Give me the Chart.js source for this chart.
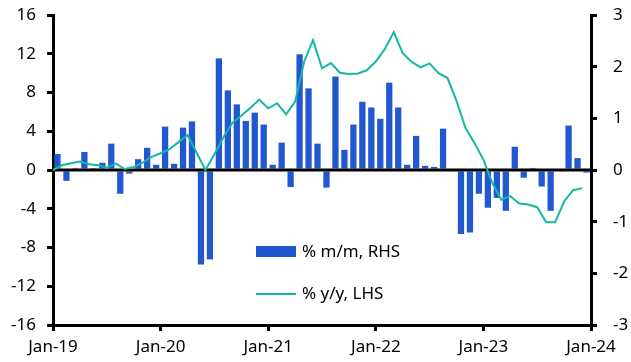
<!DOCTYPE html>
<html>
<head>
<meta charset="utf-8">
<script src="https://cdn.jsdelivr.net/npm/chart.js@4"></script>
<style>
  html, body { margin: 0; padding: 0; background: #fff; }
  #wrap { width: 631px; height: 362px; }
</style>
</head>
<body>
<div id="wrap"><canvas id="chart" width="631" height="362"></canvas></div>
<script>
// monthly data, Jan-19 .. Dec-23
const xTickLabels = ["Jan-19", "Jan-20", "Jan-21", "Jan-22", "Jan-23", "Jan-24"];

// % m/m, RHS (bars)
const momValues = [
  0.31, -0.21, 0.04, 0.35, 0.01, 0.14, 0.51, -0.46, -0.07, 0.21, 0.43, 0.10,
  0.84, 0.12, 0.82, 0.94, -1.83, -1.73, 2.16, 1.54, 1.27, 0.95, 1.11, 0.88,
  0.10, 0.53, -0.33, 2.24, 1.58, 0.51, -0.34, 1.81, 0.39, 0.88, 1.32, 1.21,
  0.99, 1.69, 1.21, 0.10, 0.66, 0.08, 0.06, 0.80, 0.00, -1.24, -1.21, -0.46,
  -0.73, -0.54, -0.79, 0.45, -0.15, 0.04, -0.32, -0.79, 0.00, 0.86, 0.23, -0.05
];

// % y/y, LHS (line)
const yoyValues = [
  0.0, 0.49, 0.7, 0.87, 0.59, 0.49, 0.24, 0.66, 0.1, 0.31, 0.76, 1.35,
  1.73, 2.15, 2.88, 3.6, 1.8, 0.0, 1.63, 3.36, 4.85, 5.6, 6.41, 7.27,
  6.37, 6.89, 5.75, 7.06, 11.15, 13.4, 10.5, 11.04, 10.04, 9.9, 9.97, 10.29,
  11.2, 12.47, 14.23, 12.05, 11.15, 10.6, 11.0, 10.0, 9.49, 7.14, 4.36, 2.8,
  1.07, -1.35, -3.07, -2.7, -3.46, -3.56, -3.84, -5.4, -5.4, -3.25, -2.08, -1.87
];

const barColor = "#2158d0";
const lineColor = "#14b8a3";
const fontFamily = "'Noto Sans', sans-serif";

// bars sit mid-month, line points on the month tick
const barPoints = momValues.map((v, i) => ({ x: i + 0.5, y: v }));
const linePoints = yoyValues.map((v, i) => ({ x: i, y: v }));

// zero line over the bars, under the y/y line
const zeroLine = {
  id: "zeroLine",
  afterDatasetDraw(chart, args) {
    if (args.index !== 0) return;
    const ctx = chart.ctx;
    const y = chart.scales.y.getPixelForValue(0);
    ctx.save();
    ctx.strokeStyle = "#000";
    ctx.lineWidth = 3;
    ctx.beginPath();
    ctx.moveTo(chart.chartArea.left, y);
    ctx.lineTo(chart.chartArea.right, y);
    ctx.stroke();
    ctx.restore();
  }
};

// legend drawn inside the plot area
const insideLegend = {
  id: "insideLegend",
  afterDraw(chart) {
    const ctx = chart.ctx;
    ctx.save();
    ctx.font = "17px " + fontFamily;
    ctx.textBaseline = "middle";
    ctx.fillStyle = barColor;
    ctx.fillRect(256, 246, 40, 11);
    ctx.fillStyle = "#000";
    ctx.fillText("% m/m, RHS", 302, 252);
    ctx.strokeStyle = lineColor;
    ctx.lineWidth = 2;
    ctx.beginPath();
    ctx.moveTo(256, 294);
    ctx.lineTo(296, 294);
    ctx.stroke();
    ctx.fillText("% y/y, LHS", 302, 294);
    ctx.restore();
  }
};

// fixed axis widths, no extra room for half tick labels
const fitY = (w) => (s) => { s.width = w; s.paddingTop = 0; s.paddingBottom = 0; };

const options = {
  type: "bar",
  data: {
    datasets: [
      {
        type: "bar",
        label: "% m/m, RHS",
        data: barPoints,
        yAxisID: "y1",
        backgroundColor: barColor,
        barPercentage: 0.7,
        categoryPercentage: 1,
        order: 1
      },
      {
        type: "line",
        label: "% y/y, LHS",
        data: linePoints,
        yAxisID: "y",
        borderColor: lineColor,
        backgroundColor: lineColor,
        borderWidth: 2,
        pointRadius: 0,
        tension: 0,
        order: 0
      }
    ]
  },
  options: {
    responsive: false,
    animation: false,
    layout: { padding: { top: 15, left: 0, right: 0, bottom: 0 } },
    plugins: {
      legend: { display: false },
      tooltip: { enabled: false }
    },
    scales: {
      x: {
        type: "linear",
        min: 0,
        max: 60,
        offset: false,
        grid: { offset: false, drawOnChartArea: false, tickLength: 6, tickColor: "#000", lineWidth: 3 },
        border: { color: "#000", width: 3 },
        ticks: {
          stepSize: 12,
          autoSkip: false,
          maxRotation: 0,
          padding: 6,
          color: "#000",
          font: { family: fontFamily, size: 17 },
          callback: (v) => xTickLabels[v / 12]
        },
        afterFit: (s) => { s.height = 37; }
      },
      y: {
        position: "left",
        min: -16,
        max: 16,
        grid: { drawOnChartArea: false, tickLength: 6, tickColor: "#000", lineWidth: 3 },
        border: { color: "#000", width: 3 },
        ticks: {
          stepSize: 4,
          padding: 11,
          color: "#000",
          font: { family: fontFamily, size: 17 }
        },
        afterFit: fitY(53)
      },
      y1: {
        position: "right",
        min: -3,
        max: 3,
        grid: { drawOnChartArea: false, tickLength: 6, tickColor: "#000", lineWidth: 3 },
        border: { color: "#000", width: 3 },
        ticks: {
          stepSize: 1,
          padding: 16,
          color: "#000",
          font: { family: fontFamily, size: 17 }
        },
        afterFit: fitY(40)
      }
    }
  },
  plugins: [zeroLine, insideLegend]
};

const canvas = document.querySelector("#chart");
const chart = new Chart(canvas.getContext("2d"), options);
</script>
</body>
</html>
